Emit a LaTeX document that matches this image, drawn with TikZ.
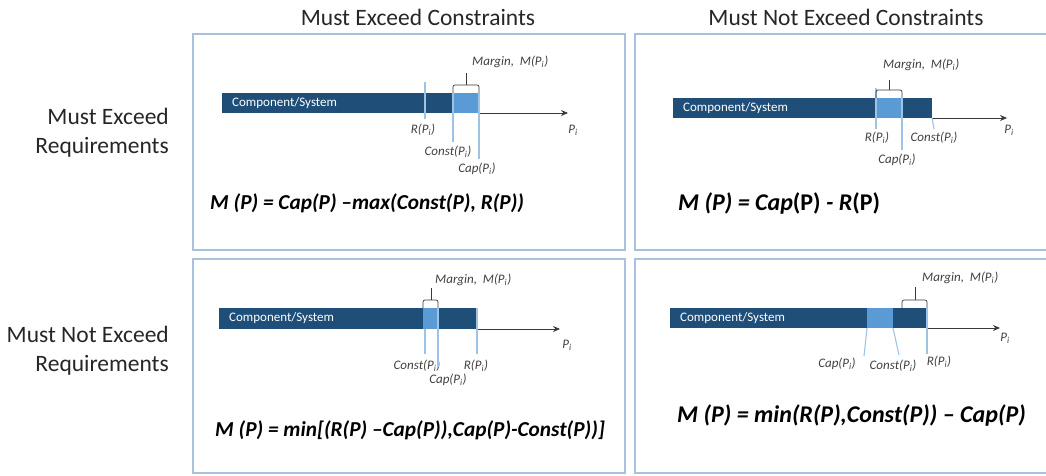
\documentclass[tikz,border=0pt]{standalone}
\usepackage{fontspec}
\setmainfont{Carlito}
\usetikzlibrary{arrows.meta}

\definecolor{bardark}{HTML}{1F4E79}
\definecolor{barlight}{HTML}{5B9BD5}
\definecolor{tickblue}{HTML}{9DC3E6}
\definecolor{boxblue}{HTML}{A9C1DD}
\definecolor{axisgray}{HTML}{3A3A3A}
\definecolor{lblgray}{HTML}{404040}

\newcommand{\Psub}{P\textsubscript{\itshape i}}

\begin{document}
\begin{tikzpicture}[x=1pt, y=-1pt,
  panel/.style={draw=boxblue, line width=1.3pt},
  darkbar/.style={fill=bardark},
  lightbar/.style={fill=barlight},
  markline/.style={draw=tickblue, line width=1.1pt},
  axis/.style={-{Stealth[length=7pt, width=6pt]}, draw=axisgray, line width=0.8pt},
  bracket/.style={draw=axisgray, line width=0.7pt, rounded corners=2pt},
  lbl/.style={font=\fontsize{13}{15}\selectfont\itshape, text=lblgray, inner sep=1pt},
  bartext/.style={font=\fontsize{13}{15}\selectfont, text=white, anchor=west, inner sep=0pt},
  formula/.style={font=\fontsize{21.3}{25}\selectfont\bfseries\itshape, anchor=west, inner sep=0pt},
  bigformula/.style={font=\fontsize{24}{28}\selectfont\bfseries\itshape, anchor=west, inner sep=0pt},
  head/.style={font=\fontsize{23.5}{29}\selectfont, text=black!85, inner sep=0pt}]

\useasboundingbox (0,0) rectangle (1046,476);

% column and row headings
\node[head] (colA) at (418,17) {Must Exceed Constraints};
\node[head] (colB) at (846,17) {Must Not Exceed Constraints};
\node[head, anchor=east, align=right] (rowA) at (169,133) {Must Exceed\\Requirements};
\node[head, anchor=east, align=right] (rowB) at (169,351) {Must Not Exceed\\Requirements};

% panel frames
\draw[panel] (193,34) rectangle (625,250);
\draw[panel] (1046,34) -- (635,34) -- (635,250) -- (1046,250);
\draw[panel] (193,259) rectangle (625,473);
\draw[panel] (1046,259) -- (635,259) -- (635,473) -- (1046,473);

%%% top left: must exceed req., must exceed const.
\fill[darkbar] (222,93) rectangle (453,113);
\fill[lightbar] (453,93) rectangle (479,113);
\node[bartext] (tlBar) at (232,103) {Component/System};
\coordinate (tlEnd) at (479,113);
\coordinate (tlTip) at (568,113);
\draw[axis] (tlEnd) -- (tlTip);
\node[lbl] (tlP) at (573,130) {\Psub};

\coordinate (tlR) at (425,82);
\coordinate (tlConst) at (453,93);
\coordinate (tlCap) at (479,93);
\node[lbl] (tlRl) at (423,130) {R(\Psub)};
\node[lbl] (tlConstl) at (448,152) {Const(\Psub)};
\node[lbl] (tlCapl) at (477,169) {Cap(\Psub)};
\draw[markline] (tlR) -- ([yshift=4pt]tlR |- tlRl.north);
\draw[markline] (tlConst) -- ([yshift=3pt]tlConst |- tlConstl.north);
\draw[markline] (tlCap) -- ([yshift=3pt]tlCap |- tlCapl.north);

\draw[bracket] (453,93) -- (453,85) -- (479,85) -- (479,93);
\draw[bracket] (466,85) -- (466,73);
\node[lbl, anchor=west] (tlM) at (471,62) {Margin,~~M(\Psub)};

\node[formula] (tlF) at (210,203) {M (P) = Cap(P) –max(Const(P), R(P))};

%%% top right: must exceed req., must not exceed const.
\fill[darkbar] (673,98) rectangle (932,118);
\fill[lightbar] (876,98) rectangle (902,118);
\node[bartext] (trBar) at (683,108) {Component/System};
\coordinate (trEnd) at (932,118);
\coordinate (trTip) at (1007,118);
\draw[axis] (trEnd) -- (trTip);
\node[lbl] (trP) at (1009,130) {\Psub};

\coordinate (trR) at (876,88);
\coordinate (trCap) at (902,98);
\node[lbl] (trRl) at (877,138) {R(\Psub)};
\node[lbl] (trConstl) at (934,138) {Const(\Psub)};
\node[lbl] (trCapl) at (897,160) {Cap(\Psub)};
\draw[markline] (trR) -- ([yshift=2pt]trR |- trRl.north);
\draw[markline] (trCap) -- ([yshift=3pt]trCap |- trCapl.north);
\draw[markline] (trEnd) -- ([xshift=2pt, yshift=2pt]trEnd |- trConstl.north);

\draw[bracket] (876,98) -- (876,90) -- (902,90) -- (902,98);
\draw[bracket] (889,90) -- (889,80);
\node[lbl, anchor=west] (trM) at (882,65) {Margin,~~M(\Psub)};

\node[bigformula] (trF) at (678,203) {M (P) = Cap\textup{(P)} - R\textup{(P)}};

%%% bottom left: must not exceed req., must exceed const.
\fill[darkbar] (219,308) rectangle (477,329);
\fill[lightbar] (423,308) rectangle (438,329);
\node[bartext] (blBar) at (229,318) {Component/System};
\coordinate (blEnd) at (477,329);
\coordinate (blTip) at (560,329);
\draw[axis] (blEnd) -- (blTip);
\node[lbl] (blP) at (567,345) {\Psub};

\coordinate (blConst) at (425,329);
\coordinate (blCap) at (438,308);
\coordinate (blR) at (477,308);
\node[lbl] (blConstl) at (417,366) {Const(\Psub)};
\node[lbl] (blCapl) at (448,380) {Cap(\Psub)};
\node[lbl] (blRl) at (476,366) {R(\Psub)};
\draw[markline] (blConst) -- ([yshift=5pt]blConst |- blConstl.north);
\draw[markline] (blCap) -- ([yshift=6pt]blCap |- blCapl.north);
\draw[markline] (blR) -- ([yshift=5pt]blR |- blRl.north);

\draw[bracket] (423,308) -- (423,300) -- (438,300) -- (438,308);
\draw[bracket] (431,300) -- (431,288);
\node[lbl, anchor=west] (blM) at (434,280) {Margin,~~M(\Psub)};

\node[formula] (blF) at (215,430) {M (P) = min[(R(P) –Cap(P)),Cap(P)-Const(P))]};

%%% bottom right: must not exceed req., must not exceed const.
\fill[darkbar] (670,308) rectangle (927,328);
\fill[lightbar] (867,308) rectangle (893,328);
\node[bartext] (brBar) at (680,318) {Component/System};
\coordinate (brEnd) at (927,328);
\coordinate (brTip) at (1000,328);
\draw[axis] (brEnd) -- (brTip);
\node[lbl] (brP) at (1005,338) {\Psub};

\coordinate (brCap) at (867,328);
\coordinate (brConst) at (893,328);
\coordinate (brR) at (927,308);
\node[lbl] (brCapl) at (837,364) {Cap(\Psub)};
\node[lbl] (brConstl) at (893,366) {Const(\Psub)};
\node[lbl] (brRl) at (939,362) {R(\Psub)};
\draw[markline] (brCap) -- ([xshift=-3pt, yshift=1pt]brCap |- brCapl.north);
\draw[markline] (brConst) -- ([xshift=6pt, yshift=4pt]brConst |- brConstl.north);
\draw[markline] (brR) -- ([yshift=1pt]brR |- brRl.north);

\draw[bracket] (902,308) -- (902,300) -- (927,300) -- (927,308);
\draw[bracket] (915,300) -- (915,287);
\node[lbl, anchor=west] (brM) at (921,278) {Margin,~~M(\Psub)};

\node[bigformula] (brF) at (677,415) {M (P) = min(R(P),Const(P)) – Cap(P)};

\end{tikzpicture}
\end{document}
